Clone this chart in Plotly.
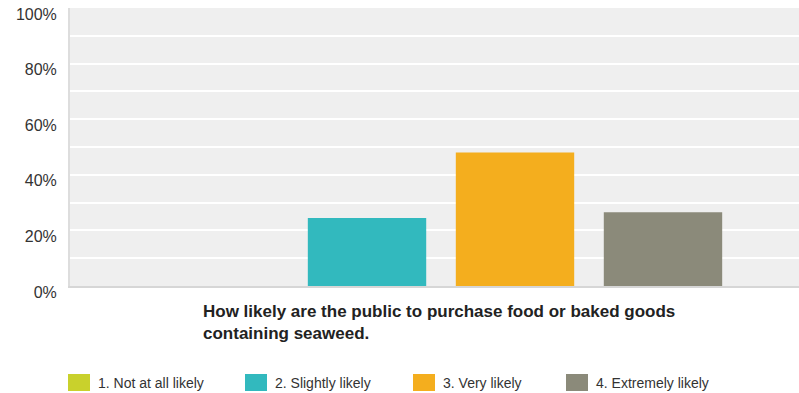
import plotly.graph_objects as go

# Survey responses (share of respondents, %)
categories = ["1. Not at all likely", "2. Slightly likely", "3. Very likely", "4. Extremely likely"]
values = [0, 24.5, 48.0, 26.5]
colors = ["#c9d12c", "#32b9be", "#f4ae1e", "#8b8a7a"]
y_ticks = [0, 20, 40, 60, 80, 100]
y_tick_text = ["0%", "20%", "40%", "60%", "80%", "100%"]
question = "How likely are the public to purchase food or baked goods<br>containing seaweed."

FONT = "Liberation Sans, Arial, sans-serif"

fig = go.Figure()
for cat, val, col in zip(categories, values, colors):
    fig.add_trace(go.Bar(
        x=[cat], y=[val], name=cat, marker=dict(color=col, line=dict(width=0)),
        width=0.8, showlegend=False,
    ))

fig.update_layout(
    width=799, height=393,
    margin=dict(l=70, r=0, t=8, b=107),
    paper_bgcolor="white",
    plot_bgcolor="#efefef",
    bargap=0.2,
    font=dict(family=FONT, size=13, color="#333333"),
    xaxis=dict(
        type="category", categoryorder="array", categoryarray=categories,
        range=[-1.007, 3.919], showticklabels=False, ticks="",
        showgrid=False, zeroline=False,
        showline=True, linecolor="#d6d6d6", linewidth=2,
    ),
    yaxis=dict(
        range=[0, 100], tickvals=y_ticks, ticktext=y_tick_text,
        showgrid=True, gridcolor="#ffffff", gridwidth=2,
        minor=dict(dtick=10, tick0=0, showgrid=True, gridcolor="#ffffff", gridwidth=2),
        zeroline=False, showline=True, linecolor="#dddddd", linewidth=2,
        ticks="", ticklabelshift=6, ticklabelstandoff=8,
        tickfont=dict(family=FONT, size=16, color="#333333"),
    ),
)

# Axis title: the survey question, left aligned beneath the bars
fig.add_annotation(
    text="<b>" + question + "</b>", xref="paper", yref="paper",
    x=(201 - 70) / 729, y=(286 - 322) / 278, xanchor="left", yanchor="middle",
    align="left", showarrow=False,
    font=dict(family=FONT, size=17, color="#222222"),
)

# Legend row: colour swatch followed by category label
legend_x = [68, 245, 413, 566]
for lx, cat, col in zip(legend_x, categories, colors):
    x0 = (lx - 70) / 729
    x1 = (lx + 22 - 70) / 729
    y0 = (286 - 391) / 278
    y1 = (286 - 374) / 278
    fig.add_shape(type="rect", xref="paper", yref="paper", x0=x0, x1=x1, y0=y0, y1=y1,
                  fillcolor=col, line=dict(width=0), layer="above")
    fig.add_annotation(
        text=cat, xref="paper", yref="paper", x=(lx + 28 - 70) / 729, y=(286 - 382.5) / 278,
        xanchor="left", yanchor="middle", showarrow=False,
        font=dict(family=FONT, size=14, color="#333333"),
    )

fig.write_html("out.html")
